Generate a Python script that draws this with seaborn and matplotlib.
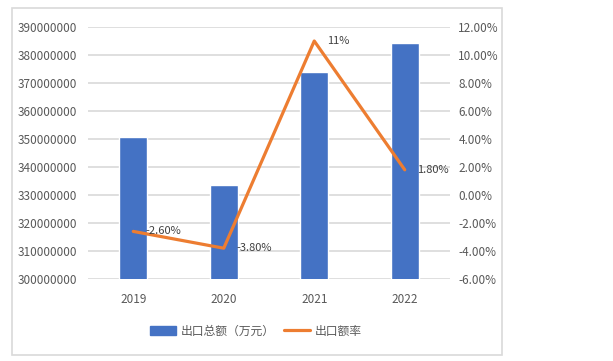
import matplotlib
matplotlib.use("Agg")
import matplotlib.pyplot as plt
import seaborn as sns
import pandas as pd
import numpy as np
from matplotlib.patches import Rectangle
from matplotlib.lines import Line2D
from matplotlib.ticker import FuncFormatter

years = ["2019", "2020", "2021", "2022"]
exports = [350700000, 333600000, 373900000, 384300000]
rates = [-2.6, -3.8, 11.0, 1.8]
rate_labels = ["-2.60%", "-3.80%", "11%", "1.80%"]
bar_name = "出口总额（万元）"
line_name = "出口额率"

sns.set_theme(style="white")
plt.rcParams['font.family'] = ['Noto Sans CJK SC', 'DejaVu Sans']

blue = "#4472C4"
orange = "#ED7D31"
tick_col = "#595959"

fig = plt.figure(figsize=(6.13, 3.61), dpi=100)
fig.patch.set_facecolor("white")
fig.patches.append(Rectangle((12/613, 1-355/361), 490/613, 347/361, transform=fig.transFigure,
                             fill=False, edgecolor="#D9D9D9", linewidth=1.2))

ax = fig.add_axes([88/613, 1-279/361, 362/613, 252/361])
df = pd.DataFrame({"year": years, "exports": exports, "rate": rates})
sns.barplot(data=df, x="year", y="exports", color=blue, width=0.31, ax=ax, saturation=1)
ax.set_ylim(300000000, 390000000)
ax.set_yticks(np.arange(300000000, 390000001, 10000000))
ax.yaxis.set_major_formatter(FuncFormatter(lambda v, p: f"{int(v)}"))
ax.set_xlim(-0.5, 3.5)
ax.set_xlabel("")
ax.set_ylabel("")
ax.grid(axis="y", color="#D9D9D9", linewidth=1.2)
ax.set_axisbelow(True)
for s in ax.spines.values():
    s.set_visible(False)
ax.tick_params(axis="y", length=0, pad=8, labelsize=8.5, labelcolor=tick_col)
ax.tick_params(axis="x", length=0, pad=10, labelsize=8.5, labelcolor=tick_col)

ax2 = ax.twinx()
sns.pointplot(data=df, x="year", y="rate", color=orange, markers="", linewidth=2.3, ax=ax2,
              errorbar=None)
ax2.set_ylim(-6, 12)
ax2.set_xlim(-0.5, 3.5)
ax2.set_yticks(np.arange(-6, 12.01, 2))
ax2.yaxis.set_major_formatter(FuncFormatter(lambda v, p: f"{v:.2f}%"))
ax2.set_ylabel("")
ax2.set_xlabel("")
for s in ax2.spines.values():
    s.set_visible(False)
ax2.tick_params(axis="y", length=0, pad=6, labelsize=8.5, labelcolor=tick_col)
for i, (r, lab) in enumerate(zip(rates, rate_labels)):
    ax2.annotate(lab, (i, r), xytext=(9, 0), textcoords="offset points",
                 ha="left", va="center", fontsize=8, color="#404040")

handles = [Rectangle((0, 0), 1, 1, color=blue), Line2D([0], [0], color=orange, linewidth=2.3)]
fig.legend(handles, [bar_name, line_name], loc="center", bbox_to_anchor=(256/613, 1-331/361),
           ncol=2, frameon=False, fontsize=8.5, labelcolor=tick_col, handlelength=2.2,
           handleheight=0.7, columnspacing=0.8, handletextpad=0.4)

fig.savefig("out.png", dpi=100)
